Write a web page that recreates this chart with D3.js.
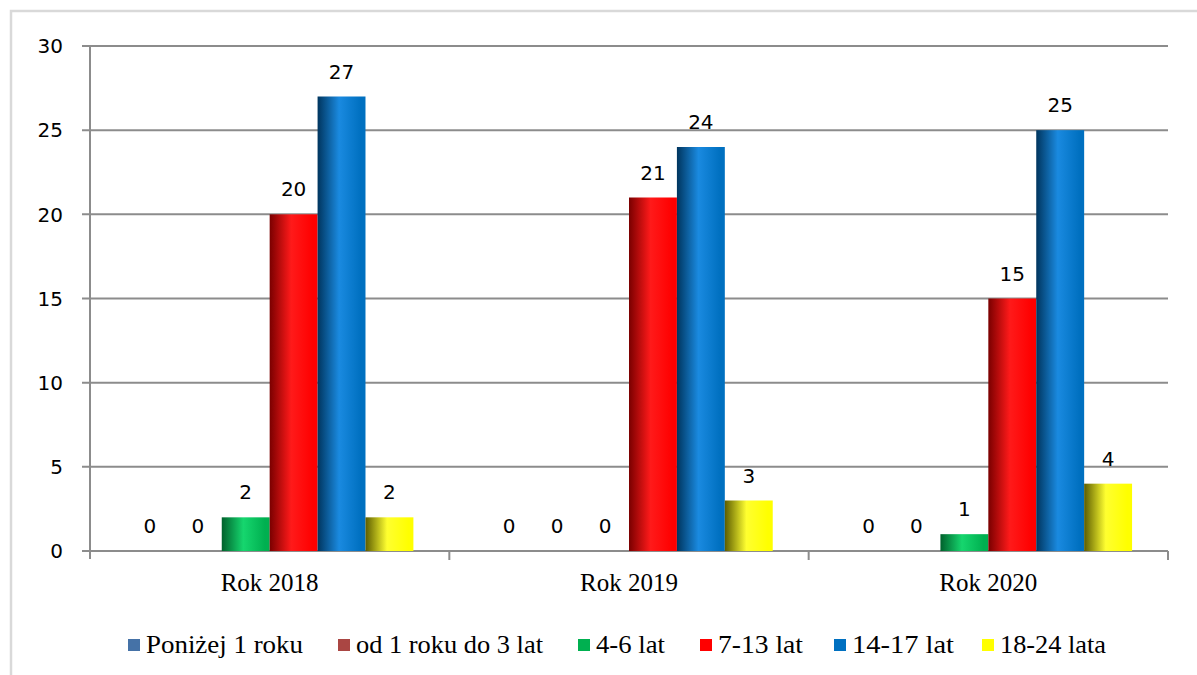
<!DOCTYPE html>
<html>
<head>
<meta charset="utf-8">
<script src="https://cdn.jsdelivr.net/npm/d3@7"></script>
<style>
  body { margin: 0; background: #fff; }
  svg { display: block; }
</style>
</head>
<body>
<script>
'use strict';

// chart data
let years = ["Rok 2018", "Rok 2019", "Rok 2020"];
let groups = ["Poniżej 1 roku", "od 1 roku do 3 lat", "4-6 lat", "7-13 lat", "14-17 lat", "18-24 lata"];
let values = [
  [0, 0, 2, 20, 27, 2],
  [0, 0, 0, 21, 24, 3],
  [0, 0, 1, 15, 25, 4]
];
let yTicks = [0, 5, 10, 15, 20, 25, 30];

// base colours and cylinder shading (dark edge, highlight, base)
let colors = ["#4572a7", "#aa4643", "#00b050", "#ff0000", "#0070c0", "#ffff00"];
let shades = [
  ["#1f3a5c", "#5f8cc4", "#4572a7"],
  ["#5a1e1c", "#c96360", "#aa4643"],
  ["#00612c", "#16d66e", "#00b050"],
  ["#7a0000", "#ff1a1a", "#ff0000"],
  ["#00355e", "#1a8ae0", "#0070c0"],
  ["#5c5c00", "#ffff30", "#ffff00"]
];

let margin = { top: 46, left: 90, bottom: 124, right: 29 };
let W = 1197, H = 675;
let width = W - margin.left - margin.right,
  height = H - margin.top - margin.bottom;

let svg = d3.select("body").append("svg")
  .attr("width", W)
  .attr("height", H);

// outer chart border (cropped at right and bottom)
svg.append("rect")
  .attr("x", 11).attr("y", 11)
  .attr("width", 1250).attr("height", 750)
  .attr("fill", "none")
  .attr("stroke", "#d9d9d9")
  .attr("stroke-width", 2.5);

let defs = svg.append("defs");
shades.forEach((s, i) => {
  let g = defs.append("linearGradient")
    .attr("id", "grad" + i)
    .attr("x1", "0%").attr("x2", "100%").attr("y1", "0%").attr("y2", "0%");
  g.append("stop").attr("offset", "0%").attr("stop-color", s[0]);
  g.append("stop").attr("offset", "45%").attr("stop-color", s[1]);
  g.append("stop").attr("offset", "90%").attr("stop-color", s[2]);
  g.append("stop").attr("offset", "100%").attr("stop-color", s[2]);
});

let chart = svg.append("g")
  .attr("transform", "translate(" + margin.left + "," + margin.top + ")");

let y = d3.scaleLinear().domain([0, 30]).range([height, 0]);
let x0 = d3.scaleBand().domain(years).range([0, width]);
let x1 = d3.scaleBand().domain(groups).range([0, x0.bandwidth()]).paddingOuter(0.75);

// horizontal gridlines
chart.append("g")
  .selectAll("line")
  .data(yTicks)
  .enter()
  .append("line")
  .attr("x1", -8)
  .attr("x2", width)
  .attr("y1", d => y(d))
  .attr("y2", d => y(d))
  .attr("stroke", "#8c8c8c")
  .attr("stroke-width", 2);

// y axis line
chart.append("line")
  .attr("x1", 0).attr("x2", 0)
  .attr("y1", 0).attr("y2", height + 8)
  .attr("stroke", "#8c8c8c")
  .attr("stroke-width", 2);

// y tick labels
chart.append("g")
  .selectAll("text")
  .data(yTicks)
  .enter()
  .append("text")
  .attr("x", -27)
  .attr("y", d => y(d))
  .attr("dy", "0.36em")
  .attr("text-anchor", "end")
  .style("font-family", "'DejaVu Sans', sans-serif")
  .style("font-size", "20px")
  .attr("fill", "#000")
  .text(d => d);

// category tick marks
chart.append("g")
  .selectAll("line")
  .data(years)
  .enter()
  .append("line")
  .attr("x1", d => x0(d) + x0.bandwidth())
  .attr("x2", d => x0(d) + x0.bandwidth())
  .attr("y1", height)
  .attr("y2", height + 9)
  .attr("stroke", "#8c8c8c")
  .attr("stroke-width", 2);

// category labels
chart.append("g")
  .selectAll("text")
  .data(years)
  .enter()
  .append("text")
  .attr("x", d => x0(d) + x0.bandwidth() / 2)
  .attr("y", height + 40)
  .attr("text-anchor", "middle")
  .style("font-family", "'Liberation Serif', 'Times New Roman', serif")
  .style("font-size", "25px")
  .attr("fill", "#000")
  .text(d => d);

// bars
let yearGroups = chart.selectAll(".year")
  .data(years)
  .enter()
  .append("g")
  .attr("class", "year")
  .attr("transform", d => "translate(" + x0(d) + ",0)");

yearGroups.selectAll("rect")
  .data((d, i) => values[i].map((v, j) => ({ group: groups[j], value: v, idx: j })))
  .enter()
  .append("rect")
  .attr("x", d => x1(d.group))
  .attr("y", d => y(d.value))
  .attr("width", x1.bandwidth())
  .attr("height", d => height - y(d.value))
  .attr("fill", d => "url(#grad" + d.idx + ")");

// value labels
yearGroups.selectAll("text")
  .data((d, i) => values[i].map((v, j) => ({ group: groups[j], value: v })))
  .enter()
  .append("text")
  .attr("x", d => x1(d.group) + x1.bandwidth() / 2)
  .attr("y", d => y(d.value) - 18)
  .attr("text-anchor", "middle")
  .style("font-family", "'DejaVu Sans', sans-serif")
  .style("font-size", "20px")
  .attr("fill", "#000")
  .text(d => d.value);

// legend
let legendX = [128, 338, 578, 700, 834, 982];
let legendW = [157, 187, 69, 85, 102, 106];
let legend = svg.append("g");
groups.forEach((g, i) => {
  legend.append("rect")
    .attr("x", legendX[i])
    .attr("y", 639)
    .attr("width", 12)
    .attr("height", 12)
    .attr("fill", colors[i]);
  legend.append("text")
    .attr("x", legendX[i] + 18)
    .attr("y", 653)
    .attr("textLength", legendW[i])
    .attr("lengthAdjust", "spacingAndGlyphs")
    .style("font-family", "'Liberation Serif', 'Times New Roman', serif")
    .style("font-size", "26px")
    .attr("fill", "#000")
    .text(g);
});
</script>
</body>
</html>
